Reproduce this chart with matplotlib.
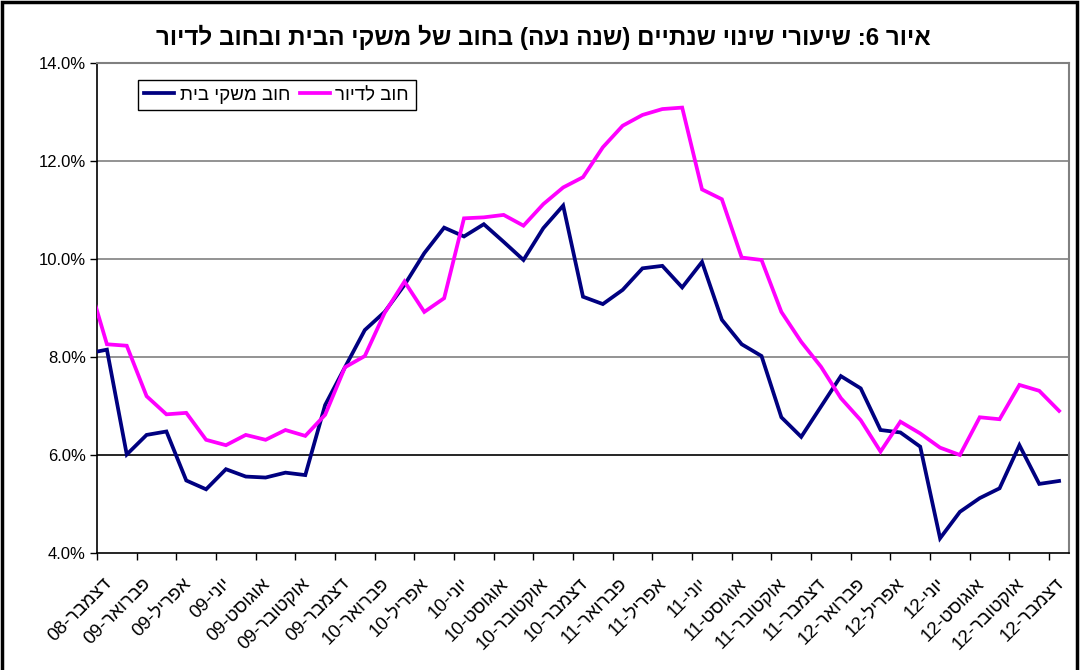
import matplotlib
matplotlib.use("Agg")
import matplotlib.pyplot as plt
from matplotlib.patches import Rectangle
from matplotlib.transforms import ScaledTranslation
import numpy as np

plt.rcParams['font.family'] = ['Liberation Sans', 'DejaVu Sans']

# ---- data (index -1 = Nov-08, partly hidden at the axis edge; 0 = Dec-08 ... 48 = Dec-12)
household_debt = [8.07, 8.15, 6.01, 6.41, 6.48, 5.48, 5.30, 5.71, 5.56, 5.54, 5.64, 5.59,
                  7.02, 7.79, 8.55, 8.92, 9.47, 10.12, 10.64, 10.46, 10.71, 10.35, 9.98,
                  10.63, 11.09, 9.23, 9.08, 9.37, 9.81, 9.86, 9.42, 9.94, 8.76, 8.26, 8.02,
                  6.77, 6.37, 6.99, 7.61, 7.36, 6.51, 6.46, 6.17, 4.30, 4.84, 5.12, 5.32,
                  6.20, 5.41, 5.47]
housing_debt = [9.63, 8.26, 8.23, 7.20, 6.83, 6.86, 6.31, 6.20, 6.41, 6.31, 6.51, 6.39,
                6.82, 7.79, 8.02, 8.90, 9.54, 8.92, 9.20, 10.83, 10.85, 10.90, 10.68,
                11.12, 11.46, 11.67, 12.28, 12.72, 12.94, 13.06, 13.09, 11.42, 11.22,
                10.03, 9.98, 8.92, 8.31, 7.80, 7.16, 6.71, 6.07, 6.68, 6.44, 6.15, 6.00,
                6.77, 6.73, 7.43, 7.31, 6.90]

label_months = ['דצמבר', 'פברואר', 'אפריל', 'יוני', 'אוגוסט', 'אוקטובר']
label_years = ['08', '09', '09', '09', '09', '09', '09', '10', '10', '10', '10', '10', '10',
               '11', '11', '11', '11', '11', '11', '12', '12', '12', '12', '12', '12']
y_ticks = [4, 6, 8, 10, 12, 14]

title = 'איור 6: שיעורי שינוי שנתיים (שנה נעה) בחוב של משקי הבית ובחוב לדיור'
name_household = 'חוב משקי בית'
name_housing = 'חוב לדיור'


def visual_rtl(s):
    """Reverse a logical RTL string into visual (left-to-right) order, keeping digit runs."""
    swap = {'(': ')', ')': '('}
    tokens = []
    cur = ''
    for ch in s:
        if ch.isdigit():
            cur += ch
        else:
            if cur:
                tokens.append(cur)
                cur = ''
            tokens.append(swap.get(ch, ch))
    if cur:
        tokens.append(cur)
    return ''.join(tokens[::-1])


def tick_text(month, year):
    return year + '-' + month[::-1]


x = np.arange(len(household_debt)) - 1

fig = plt.figure(figsize=(10.8, 6.7), dpi=100)
ax = fig.add_axes([97 / 1080, 1 - 553 / 670, 972 / 1080, 490 / 670])

ax.plot(x, household_debt, color='#000080', lw=2.7, solid_joinstyle='miter',
        label=visual_rtl(name_household), zorder=3)
ax.plot(x, housing_debt, color='#FF00FF', lw=2.7, solid_joinstyle='miter',
        label=visual_rtl(name_housing), zorder=4)

ax.set_xlim(-0.5, 48.5)
ax.set_ylim(4, 14)

ax.set_yticks(y_ticks)
ax.set_yticklabels([f'{v:.1f}%' for v in y_ticks], fontsize=12)
ax.tick_params(axis='y', direction='out', length=5, width=1, pad=3)

major = np.arange(-0.5, 48, 2)
ax.set_xticks(major)
ax.set_xticklabels([])
ax.tick_params(axis='x', which='major', direction='out', length=5, width=1)
label_pos = np.arange(0, 49, 2)
ax.set_xticks(label_pos, minor=True)
labels = [tick_text(label_months[i % 6], label_years[i]) for i in range(len(label_pos))]
ax.set_xticklabels(labels, minor=True, rotation=45, ha='right', va='top',
                   rotation_mode='anchor', fontsize=13.5)
ax.tick_params(axis='x', which='minor', length=0, pad=16)
shift = ScaledTranslation(-0.04, 0, fig.dpi_scale_trans)
for lbl in ax.get_xticklabels(minor=True):
    lbl.set_transform(lbl.get_transform() + shift)

for yv in y_ticks[1:-1]:
    ax.axhline(yv, color='black' if yv == 6 else '#808080', lw=1.2, zorder=1)

for side in ['top', 'right']:
    ax.spines[side].set_color('#808080')
    ax.spines[side].set_linewidth(1.5)
for side in ['left', 'bottom']:
    ax.spines[side].set_color('black')
    ax.spines[side].set_linewidth(1.2)

leg = ax.legend(loc='upper left', bbox_to_anchor=(0.042, 0.965), ncol=2, fontsize=13.5,
                frameon=True, fancybox=False, framealpha=1, edgecolor='black',
                borderaxespad=0, handlelength=1.6, handletextpad=0.3, columnspacing=0.5,
                borderpad=0.35)
leg.get_frame().set_linewidth(1.0)

fig.text(0.503, 1 - 37 / 670, visual_rtl(title), ha='center', va='center',
         fontsize=17.4, fontweight='bold')

fig.patches.append(Rectangle((0.002, -0.01), 0.995, 1.007, transform=fig.transFigure,
                             fill=False, edgecolor='black', lw=2.5))

fig.savefig('out.png', dpi=100)
